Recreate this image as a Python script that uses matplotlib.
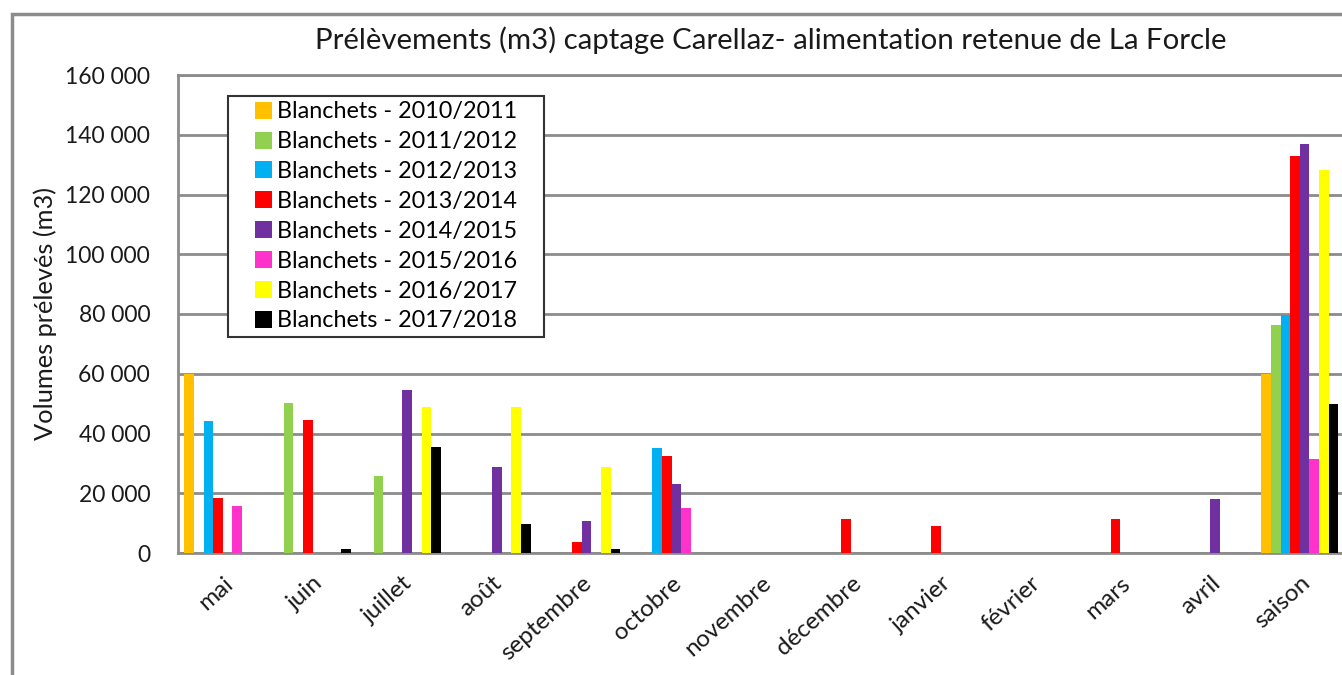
import matplotlib.pyplot as plt
from matplotlib.patches import Rectangle
from matplotlib.ticker import FuncFormatter
import numpy as np

plt.rcParams['font.family'] = ['Lato', 'DejaVu Sans']

months = ["mai", "juin", "juillet", "août", "septembre", "octobre", "novembre",
          "décembre", "janvier", "février", "mars", "avril", "saison"]

labels = ["Blanchets - 2010/2011", "Blanchets - 2011/2012", "Blanchets - 2012/2013",
          "Blanchets - 2013/2014", "Blanchets - 2014/2015", "Blanchets - 2015/2016",
          "Blanchets - 2016/2017", "Blanchets - 2017/2018"]
colors = ["#FFC000", "#92D050", "#00B0F0", "#FF0000", "#7030A0", "#FF33CC", "#FFFF00", "#000000"]

v2010 = [60000, 0, 0, 0, 0, 0, 0, 0, 0, 0, 0, 0, 60000]
v2011 = [0, 50200, 25800, 0, 0, 0, 0, 0, 0, 0, 0, 0, 76400]
v2012 = [44300, 0, 0, 0, 0, 35000, 0, 0, 0, 0, 0, 0, 79800]
v2013 = [18300, 44500, 0, 0, 3600, 32400, 0, 11500, 9000, 0, 11300, 0, 133000]
v2014 = [0, 0, 54700, 28800, 10600, 23000, 0, 0, 0, 0, 0, 18000, 136900]
v2015 = [15700, 0, 0, 0, 0, 15000, 0, 0, 0, 0, 0, 0, 31300]
v2016 = [0, 0, 48900, 48900, 28800, 0, 0, 0, 0, 0, 0, 0, 128200]
v2017 = [0, 1300, 35600, 9700, 1200, 0, 0, 0, 0, 0, 0, 0, 49800]
series = [v2010, v2011, v2012, v2013, v2014, v2015, v2016, v2017]

txt = '#1a1a1a'
W, H = 1342, 675
fig = plt.figure(figsize=(W / 100, H / 100), dpi=100)
ax = fig.add_axes([178 / W, 1 - 553 / H, 1.002 - 178 / W, (553 - 75) / H])

x = np.arange(len(months))
w = 0.107
for i, (vals, lab, col) in enumerate(zip(series, labels, colors)):
    ax.bar(x + (i - 3.5) * w, vals, width=w, color=col, label=lab, zorder=3)

ax.set_xlim(-0.5, 12.5)
ax.set_ylim(0, 160000)
ax.set_yticks(np.arange(0, 160001, 20000))
ax.yaxis.set_major_formatter(FuncFormatter(lambda v, p: f"{int(v):,}".replace(",", " ")))
ax.grid(axis='y', color='#8c8c8c', linewidth=2, zorder=0)
for s in ax.spines.values():
    s.set_color('#8c8c8c')
    s.set_linewidth(2)
ax.tick_params(axis='y', length=0, pad=20, labelsize=16.5, colors=txt)
ax.tick_params(axis='x', length=0, pad=14, labelsize=17.5, colors=txt)
ax.set_xticks(x)
ax.set_xticklabels(months, rotation=42, ha='right', rotation_mode='anchor')

ax.set_ylabel("Volumes prélevés (m3)", fontsize=18.3, color=txt)
ax.yaxis.set_label_coords(-0.104, 0.5)

fig.text(0.574, 1 - 40 / H, "Prélèvements (m3) captage Carellaz- alimentation retenue de La Forcle",
         ha='center', va='center', fontsize=21.2, color=txt)

# legend without frame, box drawn separately to get the wide side padding
leg = ax.legend(loc='upper left', bbox_to_anchor=((252 - 178) / 1164, 1 - (99 - 75) / 478),
                fontsize=16.8, frameon=False,
                handlelength=0.75, handleheight=0.75, handletextpad=0.2, labelspacing=0.38,
                borderpad=0.1, borderaxespad=0)
leg.set_zorder(6)
ax.add_patch(Rectangle(((228 - 178) / 1164, 1 - (337 - 75) / 478), (543 - 228) / 1164, (337 - 96) / 478,
                       transform=ax.transAxes, facecolor='white', edgecolor='#333333',
                       linewidth=1.5, zorder=5))

fig.patches.append(Rectangle((12 / W, -0.01), 1.1, 1 - 14 / H + 0.01,
                             transform=fig.transFigure, fill=False,
                             edgecolor='#8c8c8c', linewidth=2.5, zorder=0))

fig.savefig("out.png", dpi=100)
